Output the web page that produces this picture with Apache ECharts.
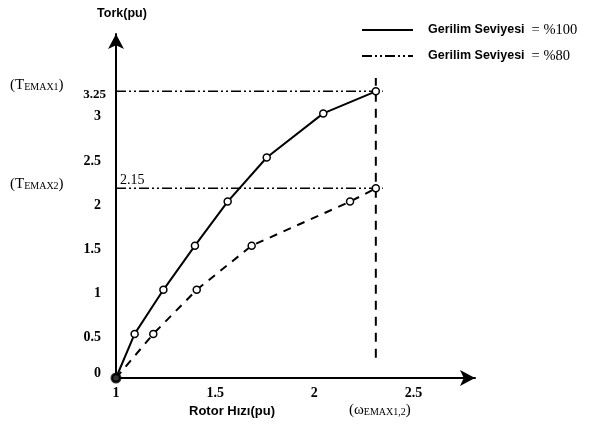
<!DOCTYPE html>
<html>
<head>
<meta charset="utf-8">
<script src="https://cdn.jsdelivr.net/npm/echarts@6/dist/echarts.min.js"></script>
<style>
  html, body { margin: 0; padding: 0; background: #fff; }
  #chart { width: 589px; height: 425px; }
</style>
</head>
<body>
<div id="chart"></div>
<script>
// Torque (pu) against rotor speed (pu) for two supply voltage levels
const speed100 = [1, 1.094, 1.239, 1.398, 1.563, 1.760, 2.045, 2.31];
const torque100 = [0, 0.5, 1, 1.5, 2, 2.5, 3, 3.25];
const speed80 = [1, 1.188, 1.407, 1.684, 2.180, 2.31];
const torque80 = [0, 0.5, 1, 1.5, 2, 2.15];

const xTickLabels = ['1', '1.5', '2', '2.5'];
const yTickLabels = ['0', '0.5', '1', '1.5', '2', '2.5', '3'];

// Peak torque values and the speed at which they occur
const tEmax1 = 3.25;
const tEmax2 = 2.15;
const omegaEmax = 2.31;
// Extents of the guide lines
const guideXEnd = 2.345;
const guideYBottom = 0.23;
const guideYTop = 3.4;

const legendText = 'Gerilim Seviyesi';
const legendLevels = ['= %100', '= %80'];
const xName = 'Rotor Hızı(pu)';
const yName = 'Tork(pu)';

const pairs = (xs, ys) => xs.map((x, i) => [x, ys[i]]);
const serif = 'Liberation Serif, Times New Roman, serif';
const sans = 'Liberation Sans, Arial, sans-serif';
const dashDotDot = [10, 3, 2, 3, 2, 3];
const tickFont = { fontFamily: serif, fontWeight: 'bold', fontSize: 14, color: '#000' };

const chart = echarts.init(document.getElementById('chart'), null, { renderer: 'canvas' });

const option = {
  animation: false,
  backgroundColor: '#fff',
  grid: { left: 116, right: 114, top: 34, bottom: 47, containLabel: false },
  xAxis: {
    type: 'value',
    min: 1,
    max: 2.81,
    interval: 0.5,
    name: xName,
    nameLocation: 'middle',
    nameGap: 18,
    nameTextStyle: {
      fontFamily: sans, fontWeight: 'bold', fontSize: 13, color: '#000',
      padding: [0, 127, 0, 0]
    },
    axisLine: {
      lineStyle: { color: '#000', width: 2 },
      symbol: ['none', 'arrow'],
      symbolSize: [12, 15]
    },
    axisTick: { show: false },
    splitLine: { show: false },
    axisLabel: Object.assign({
      margin: 8,
      formatter: v => (xTickLabels.indexOf(String(v)) >= 0 ? String(v) : '')
    }, tickFont)
  },
  yAxis: {
    type: 'value',
    min: 0,
    max: 3.9,
    interval: 0.5,
    name: yName,
    nameLocation: 'end',
    nameGap: 14,
    nameTextStyle: {
      fontFamily: sans, fontWeight: 'bold', fontSize: 12.5, color: '#000',
      padding: [0, 0, 0, 12]
    },
    axisLine: {
      lineStyle: { color: '#000', width: 2 },
      symbol: ['none', 'arrow'],
      symbolSize: [12, 15]
    },
    axisTick: { show: false },
    splitLine: { show: false },
    axisLabel: Object.assign({
      margin: 15,
      padding: [7, 0, 0, 0],
      formatter: v => {
        const s = String(v);
        if (yTickLabels.indexOf(s) < 0) return '';
        // the zero label sits a little above the horizontal axis
        return s === '0' ? '{z|' + s + '}' : s;
      },
      rich: { z: Object.assign({ padding: [0, 0, 17, 0] }, tickFont) }
    }, tickFont)
  },
  series: [
    {
      name: 'guide-t1', type: 'line', silent: true, symbol: 'none', z: 1,
      data: [[1, tEmax1], [guideXEnd, tEmax1]],
      lineStyle: { color: '#000', width: 1.5, type: dashDotDot }
    },
    {
      name: 'guide-t2', type: 'line', silent: true, symbol: 'none', z: 1,
      data: [[1, tEmax2], [guideXEnd, tEmax2]],
      lineStyle: { color: '#000', width: 1.5, type: dashDotDot }
    },
    {
      name: 'guide-w', type: 'line', silent: true, symbol: 'none', z: 1,
      data: [[omegaEmax, guideYBottom], [omegaEmax, guideYTop]],
      lineStyle: { color: '#000', width: 2, type: [9, 7] }
    },
    {
      name: legendText + ' ' + legendLevels[0],
      type: 'line',
      data: pairs(speed100, torque100),
      symbol: 'circle', symbolSize: 7, showAllSymbol: true, z: 3,
      lineStyle: { color: '#000', width: 2 },
      itemStyle: { color: '#fff', borderColor: '#000', borderWidth: 1.5 }
    },
    {
      name: legendText + ' ' + legendLevels[1],
      type: 'line',
      data: pairs(speed80, torque80),
      symbol: 'circle', symbolSize: 7, showAllSymbol: true, z: 3,
      lineStyle: { color: '#000', width: 2, type: [8, 7] },
      itemStyle: { color: '#fff', borderColor: '#000', borderWidth: 1.5 }
    },
    {
      name: 'origin', type: 'scatter', silent: true, z: 5,
      data: [[speed100[0], torque100[0]]],
      symbolSize: 11,
      itemStyle: { color: '#000' }
    }
  ]
};

chart.setOption(option);

// Annotations placed from data coordinates
const px = (x, y) => chart.convertToPixel({ gridIndex: 0 }, [x, y]);
const pT1 = px(1, tEmax1);
const pT2 = px(1, tEmax2);
const pW = px(omegaEmax, 0);

const subRich = {
  p: { fontFamily: serif, fontSize: 15, color: '#000' },
  s: { fontFamily: serif, fontSize: 10, color: '#000', verticalAlign: 'bottom' }
};

const legendRow = (y, dash, level) => [
  {
    type: 'line',
    shape: { x1: 362, y1: y, x2: 413, y2: y },
    style: { stroke: '#000', lineWidth: 2, lineDash: dash }
  },
  {
    type: 'text', x: 428, y: y,
    style: {
      text: '{a|' + legendText + '}{b|' + level + '}',
      verticalAlign: 'middle', align: 'left',
      rich: {
        a: { fontFamily: sans, fontWeight: 'bold', fontSize: 12.5, color: '#000' },
        b: { fontFamily: serif, fontSize: 14.5, color: '#000', padding: [0, 0, 0, 7] }
      }
    }
  }
];

chart.setOption({
  graphic: [
    {
      type: 'text', x: 10, y: pT1[1] - 6,
      style: { text: '{p|(T}{s|EMAX1}{p|)}', rich: subRich, align: 'left', verticalAlign: 'middle' }
    },
    {
      type: 'text', x: pT1[0] - 10, y: pT1[1] + 3,
      style: { text: String(tEmax1), fontFamily: serif, fontWeight: 'bold', fontSize: 13, fill: '#000', align: 'right', verticalAlign: 'middle' }
    },
    {
      type: 'text', x: 10, y: pT2[1] - 4,
      style: { text: '{p|(T}{s|EMAX2}{p|)}', rich: subRich, align: 'left', verticalAlign: 'middle' }
    },
    {
      type: 'text', x: pT2[0] + 4, y: pT2[1] - 8,
      style: { text: String(tEmax2), fontFamily: serif, fontSize: 14, fill: '#000', align: 'left', verticalAlign: 'middle' }
    },
    {
      type: 'text', x: pW[0] + 4, y: pW[1] + 32,
      style: { text: '{p|(ω}{s|EMAX1,2}{p|)}', rich: subRich, align: 'center', verticalAlign: 'middle' }
    },
    ...legendRow(30, null, legendLevels[0]),
    ...legendRow(56, dashDotDot, legendLevels[1])
  ]
});
</script>
</body>
</html>
